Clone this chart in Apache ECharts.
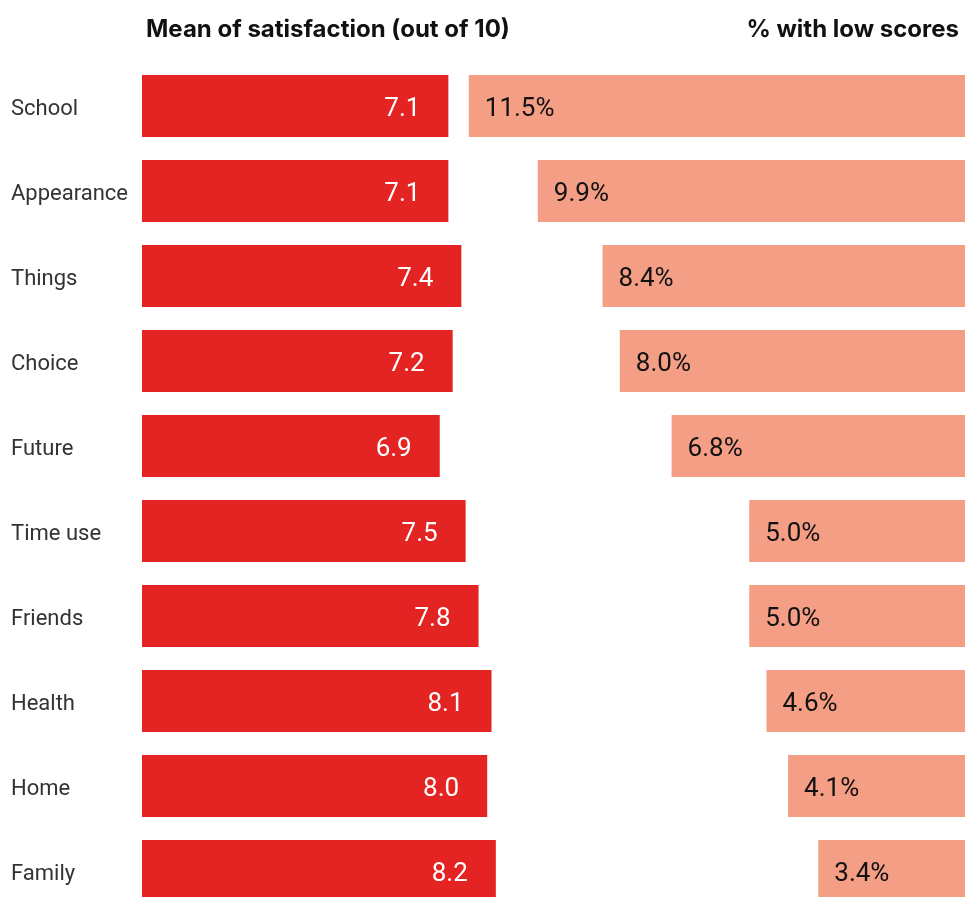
<!DOCTYPE html>
<html>
<head>
<meta charset="utf-8">
<style>
  html, body { margin: 0; padding: 0; background: #ffffff; }
  #chart { width: 968px; height: 897px; }
</style>
<script src="https://cdn.jsdelivr.net/npm/echarts@6/dist/echarts.min.js"></script>
</head>
<body>
<div id="chart"></div>
<script>
// Life domains, top to bottom
const domains = ['School', 'Appearance', 'Things', 'Choice', 'Future', 'Time use', 'Friends', 'Health', 'Home', 'Family'];
// Mean satisfaction score (out of 10)
const meanScores = [7.1, 7.1, 7.4, 7.2, 6.9, 7.5, 7.8, 8.1, 8.0, 8.2];
// Share of children reporting low satisfaction (%)
const lowShares = [11.5, 9.9, 8.4, 8.0, 6.8, 5.0, 5.0, 4.6, 4.1, 3.4];

const FONT = 'Roboto, "Liberation Sans", sans-serif';
const TITLE_FONT = 'Inter, Roboto, sans-serif';
// both panels share one scale: pixels per unit
const PX_PER_UNIT = 43.15;
const LEFT_MAX = 10;
const RIGHT_MAX = 12;
const RIGHT_EDGE = 965;

const chart = echarts.init(document.getElementById('chart'), null, { renderer: 'canvas' });

chart.setOption({
  animation: false,
  backgroundColor: '#ffffff',
  title: [
    {
      text: 'Mean of satisfaction (out of 10)',
      left: 141, top: 13,
      textStyle: { fontFamily: TITLE_FONT, fontWeight: 'bold', fontSize: 24, color: '#111111' }
    },
    {
      text: '% with low scores',
      right: 4, top: 13,
      textStyle: { fontFamily: TITLE_FONT, fontWeight: 'bold', fontSize: 24, color: '#111111' }
    }
  ],
  grid: [
    { left: 142, top: 63.5, width: LEFT_MAX * PX_PER_UNIT, height: 850, outerBoundsMode: 'none' },
    { left: RIGHT_EDGE - RIGHT_MAX * PX_PER_UNIT, top: 63.5, width: RIGHT_MAX * PX_PER_UNIT, height: 850, outerBoundsMode: 'none' }
  ],
  xAxis: [
    { gridIndex: 0, type: 'value', min: 0, max: LEFT_MAX, show: false },
    { gridIndex: 1, type: 'value', min: 0, max: RIGHT_MAX, inverse: true, show: false }
  ],
  yAxis: [
    {
      gridIndex: 0, type: 'category', data: domains, inverse: true,
      axisLine: { show: false }, axisTick: { show: false }, splitLine: { show: false },
      axisLabel: {
        align: 'left', margin: 131,
        formatter: v => '{name|' + v + '}',
        rich: {
          name: { padding: [6, 0, 0, 0], fontFamily: FONT, fontSize: 22, color: '#333333' }
        }
      }
    },
    {
      gridIndex: 1, type: 'category', data: domains, inverse: true, show: false
    }
  ],
  series: [
    {
      type: 'bar', xAxisIndex: 0, yAxisIndex: 0,
      data: meanScores, barWidth: 62,
      itemStyle: { color: '#e42323' },
      label: {
        show: true, position: 'insideRight', distance: 28, offset: [0, 3],
        formatter: p => p.value.toFixed(1),
        fontFamily: FONT, fontSize: 26, color: '#ffffff'
      }
    },
    {
      type: 'bar', xAxisIndex: 1, yAxisIndex: 1,
      data: lowShares, barWidth: 62,
      itemStyle: { color: '#f39e85' },
      label: {
        show: true, position: 'insideLeft', distance: 16, offset: [0, 3],
        formatter: p => p.value.toFixed(1) + '%',
        fontFamily: FONT, fontSize: 26, color: '#111111'
      }
    }
  ]
});
</script>
</body>
</html>
